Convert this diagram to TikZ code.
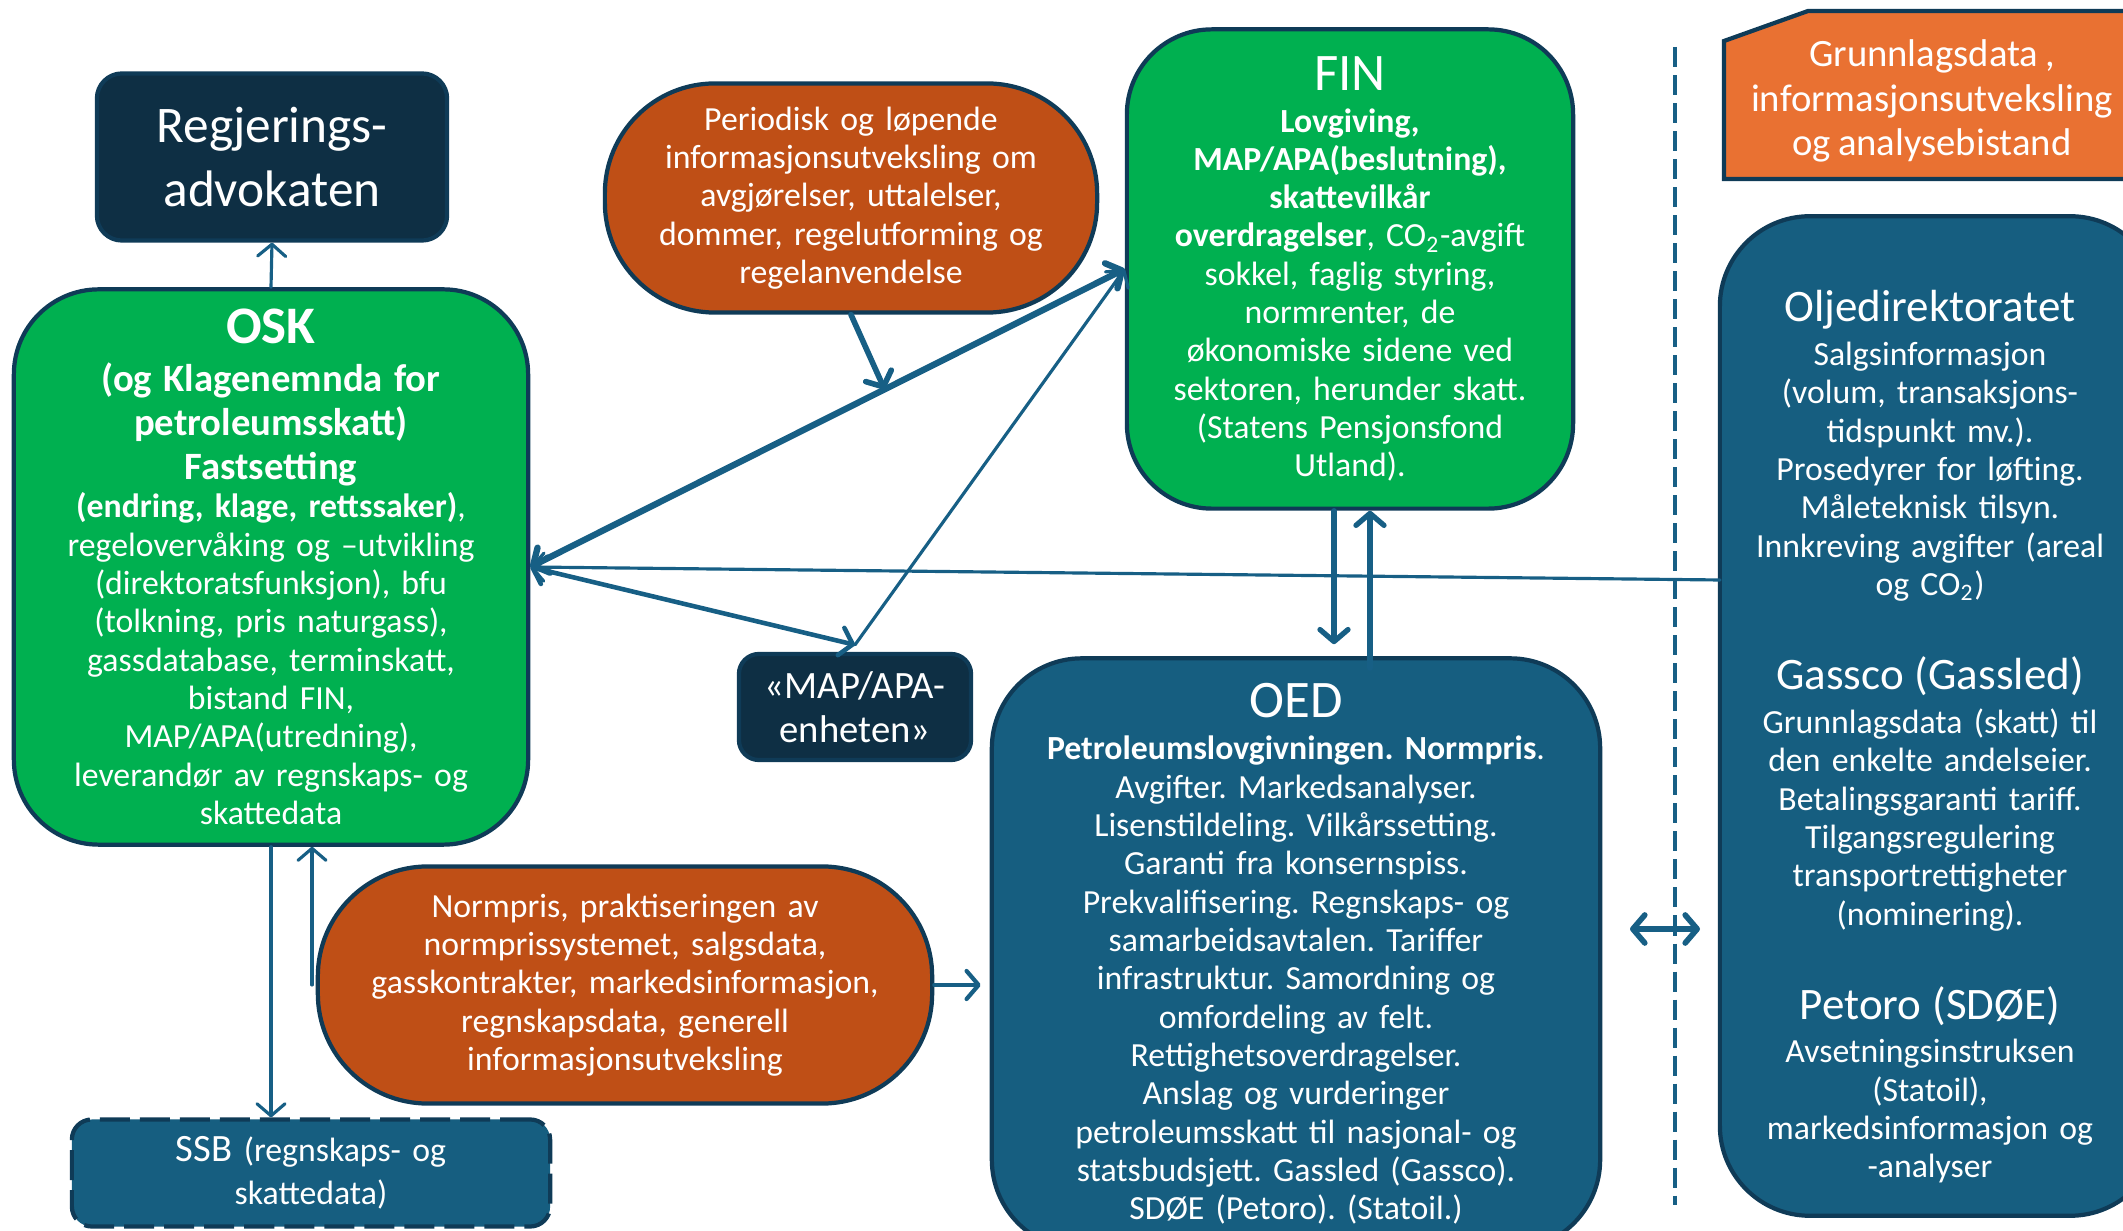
\documentclass[tikz,border=0pt]{standalone}
\usepackage{fontspec}
\setmainfont{Carlito}[WordSpace=0.8]
\usepackage{tikz}
\usetikzlibrary{arrows.meta,calc}

\definecolor{oskgreen}{HTML}{00B050}
\definecolor{deepnavy}{HTML}{0E2F44}
\definecolor{oedblue}{HTML}{165E80}
\definecolor{rustbrown}{HTML}{BF4F16}
\definecolor{lightorange}{HTML}{E97132}
\definecolor{edgeblue}{HTML}{0F3B57}
\definecolor{linkblue}{HTML}{175F85}

\newcommand{\txtbody}{\fontsize{9.6}{10.9}\selectfont}
\newcommand{\txtmid}{\fontsize{11}{12.5}\selectfont}
\newcommand{\txthead}{\fontsize{12.8}{14}\selectfont}
\newcommand{\txtbig}{\fontsize{15}{16}\selectfont}
\newcommand{\txtlarge}{\fontsize{14.6}{18}\selectfont}

\frenchspacing

\tikzset{
  unitbox/.style={draw=edgeblue, line width=1.2pt, text=white, align=center, inner sep=0pt, font=\txtbody},
  greenbox/.style={unitbox, fill=oskgreen, rounded corners=0.85cm},
  bluebox/.style={unitbox, fill=oedblue, rounded corners=0.9cm},
  navybox/.style={unitbox, fill=deepnavy, rounded corners=0.25cm},
  pillbox/.style={unitbox, fill=rustbrown, rounded corners=1.1cm},
  link/.style={draw=linkblue, line width=#1, line cap=round},
  link/.default=0.9pt
}

\begin{document}
\begin{tikzpicture}[x=0.01cm, y=-0.01cm,
  >={Straight Barb[length=0.12cm, width=0.28cm, round]}]

\useasboundingbox (0,0) rectangle (2123,1231);

% Define the main boxes
\node[navybox, font=\txtlarge, minimum width=3.5cm, minimum height=1.67cm, text width=3.3cm] (regj) at (272,157)
  {Regjerings-\\advokaten};

\node[greenbox, minimum width=5.14cm, minimum height=5.55cm, text width=5cm] (osk) at (271,567)
  {\txtbig\textbf{OSK}\\[1pt]
   \txtmid\textbf{(og Klagenemnda for}\\
   \textbf{petroleumsskatt)}\\
   \textbf{Fastsetting}\\
   \txtbody\textbf{(endring, klage, rettssaker)},\\
   regelovervåking og –utvikling\\
   (direktoratsfunksjon), bfu\\
   (tolkning, pris naturgass),\\
   gassdatabase, terminskatt,\\
   bistand FIN,\\
   MAP/APA(utredning),\\
   leverandør av regnskaps- og\\
   skattedata};

\node[pillbox, minimum width=4.92cm, minimum height=2.29cm, text width=4.7cm] (per) at (851,198)
  {Periodisk og løpende\\
   informasjonsutveksling om\\
   avgjørelser, uttalelser,\\
   dommer, regelutforming og\\
   regelanvendelse};

\node[greenbox, minimum width=4.46cm, minimum height=4.79cm, text width=4.4cm] (fin) at (1350,269)
  {\txtbig FIN\\[1pt]
   \txtbody\textbf{Lovgiving,}\\
   \textbf{MAP/APA(beslutning),}\\
   \textbf{skattevilkår}\\
   \textbf{overdragelser}, CO\textsubscript{2}-avgift\\
   sokkel, faglig styring,\\
   normrenter, de\\
   økonomiske sidene ved\\
   sektoren, herunder skatt.\\
   (Statens Pensjonsfond\\
   Utland).};

\node[navybox, font=\txtmid, rounded corners=0.2cm, minimum width=2.32cm, minimum height=1.06cm, text width=2.2cm] (map) at (855,707)
  {«MAP/APA-\\enheten»};

\node[bluebox, minimum width=6.08cm, minimum height=5.91cm, text width=6cm] (oed) at (1296,954)
  {\txtbig OED\\[1pt]
   \txtbody\textbf{Petroleumslovgivningen. Normpris}.\\
   Avgifter. Markedsanalyser.\\
   Lisenstildeling. Vilkårssetting.\\
   Garanti fra konsernspiss.\\
   Prekvalifisering. Regnskaps- og\\
   samarbeidsavtalen. Tariffer\\
   infrastruktur. Samordning og\\
   omfordeling av felt.\\
   Rettighetsoverdragelser.\\
   Anslag og vurderinger\\
   petroleumsskatt til nasjonal- og\\
   statsbudsjett. Gassled (Gassco).\\
   SDØE (Petoro). (Statoil.)};

\node[pillbox, minimum width=6.14cm, minimum height=2.37cm, text width=6cm] (norm) at (625,985)
  {Normpris, praktiseringen av\\
   normprissystemet, salgsdata,\\
   gasskontrakter, markedsinformasjon,\\
   regnskapsdata, generell\\
   informasjonsutveksling};

\node[unitbox, font=\fontsize{9.6}{12.3}\selectfont, fill=oedblue, rounded corners=0.2cm, dash pattern=on 0.3cm off 0.1cm,
  minimum width=4.78cm, minimum height=1.07cm, text width=4.6cm] (ssb) at (311,1173)
  {{\txtmid SSB} (regnskaps- og\\skattedata)};

% Draw the right-hand column
\draw[dash pattern=on 0.2cm off 0.08cm, draw=linkblue, line width=1pt] (1675,47) -- (1675,1205);
\draw[draw=edgeblue, line width=1.2pt, fill=lightorange] (1724,41) -- (1808,11) -- (2150,11) -- (2150,179) -- (1724,179) -- cycle;
\node[text=white, align=center, font=\fontsize{11}{12.7}\selectfont] (grunn) at (1932,101)
  {Grunnlagsdata ,\\informasjonsutveksling\\og analysebistand};

\node[bluebox, minimum width=4.4cm, minimum height=9.99cm] (olje) at (1940,716) {};
\node[text=white, align=center, font=\txtbody, text width=4.2cm] (oljetext) at (1930,737)
  {\txthead Oljedirektoratet\\[1.5pt]
   \txtbody Salgsinformasjon\\
   (volum, transaksjons-\\
   tidspunkt mv.).\\
   Prosedyrer for løfting.\\
   Måleteknisk tilsyn.\\
   Innkreving avgifter (areal\\
   og CO\textsubscript{2})\\[0.45cm]
   \txthead Gassco (Gassled)\\[1.5pt]
   \txtbody Grunnlagsdata (skatt) til\\
   den enkelte andelseier.\\
   Betalingsgaranti tariff.\\
   Tilgangsregulering\\
   transportrettigheter\\
   (nominering).\\[0.45cm]
   \txthead Petoro (SDØE)\\[1.5pt]
   \txtbody Avsetningsinstruksen\\
   (Statoil),\\
   markedsinformasjon og\\
   -analyser};

% Define the link points
\coordinate (oljelink) at (1720,580);
\coordinate (perhit) at ($(osk.east)!0.596!(fin.west)$);
\coordinate (swapl) at (1630,929);
\coordinate (swapr) at (1700,929);

% Draw the links
\draw[link, ->] (osk.north) -- (regj.south);
\draw[link=1.8pt, <->] (osk.east) -- (fin.west);
\draw[link=1.6pt, ->] (per.south) -- (perhit);
\draw[link, ->] (oljelink) -- (osk.east);
\draw[link=1.3pt, <->] (osk.east) -- ([yshift=0.07cm]map.north);
\draw[link, ->] ([yshift=0.07cm]map.north) -- (fin.west);
\draw[link=1.5pt, ->, shorten >=0.12cm] ([xshift=-0.16cm]fin.south) -- ([xshift=-0.16cm]fin.south |- oed.north);
\draw[link=1.5pt, <-] ([xshift=0.2cm]fin.south) -- ([xshift=0.2cm,yshift=-0.12cm]fin.south |- oed.north);
\draw[link, ->] (osk.south) -- (osk.south |- ssb.north);
\draw[link, ->] ([xshift=0.41cm]osk.south |- norm.west) -- ([xshift=0.41cm]osk.south);
\draw[link=1.2pt, ->, shorten >=0.09cm] (norm.east) -- (norm.east -| oed.west);
\draw[link=1.6pt, <->] (swapl) -- (swapr);

\end{tikzpicture}
\end{document}
